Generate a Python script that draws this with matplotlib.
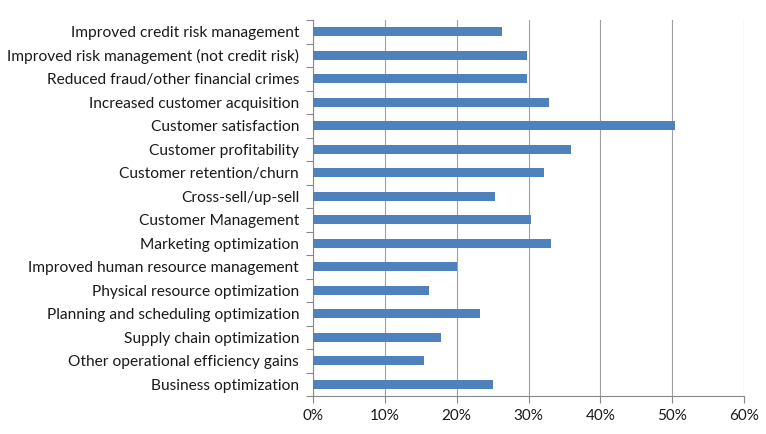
import matplotlib
matplotlib.use("Agg")
import matplotlib.pyplot as plt
import numpy as np
from matplotlib.ticker import FixedLocator, PercentFormatter

categories = [
    "Improved credit risk management",
    "Improved risk management (not credit risk)",
    "Reduced fraud/other financial crimes",
    "Increased customer acquisition",
    "Customer satisfaction",
    "Customer profitability",
    "Customer retention/churn",
    "Cross-sell/up-sell",
    "Customer Management",
    "Marketing optimization",
    "Improved human resource management",
    "Physical resource optimization",
    "Planning and scheduling optimization",
    "Supply chain optimization",
    "Other operational efficiency gains",
    "Business optimization",
]
values = [26.3, 29.8, 29.8, 32.8, 50.4, 35.9, 32.2, 25.3, 30.4, 33.1,
          20.0, 16.1, 23.3, 17.8, 15.4, 25.1]
xticks = [0, 10, 20, 30, 40, 50, 60]

plt.rcParams['font.family'] = ['Lato', 'DejaVu Sans']

fig = plt.figure(figsize=(7.66, 4.34), dpi=100)
ax = fig.add_axes([313/766, 1-396/434, (744-313)/766, (396-20)/434])

n = len(categories)
y = np.arange(n)
ax.barh(y, values, height=0.4, color="#4F81BD", zorder=3)
ax.set_ylim(n - 0.5, -0.5)
ax.set_xlim(0, 60)
ax.set_yticks(y)
ax.set_yticklabels(categories, fontsize=11.2, color="#1a1a1a")
ax.yaxis.set_minor_locator(FixedLocator(np.arange(-0.5, n, 1.0)))
ax.tick_params(axis='y', which='major', length=0, pad=10)
ax.tick_params(axis='y', which='minor', length=5, color="#888888", width=0.8)
ax.set_xticks(xticks)
ax.xaxis.set_major_formatter(PercentFormatter(decimals=0))
ax.tick_params(axis='x', which='major', length=5, color="#888888", width=0.8,
               labelsize=11, labelcolor="#1a1a1a", pad=4)
ax.grid(axis='x', color="#a0a0a0", linewidth=0.8, zorder=0)
for s in ['top', 'right']:
    ax.spines[s].set_visible(False)
for s in ['left', 'bottom']:
    ax.spines[s].set_color("#888888")
    ax.spines[s].set_linewidth(0.8)

fig.savefig("out.png", dpi=100)
